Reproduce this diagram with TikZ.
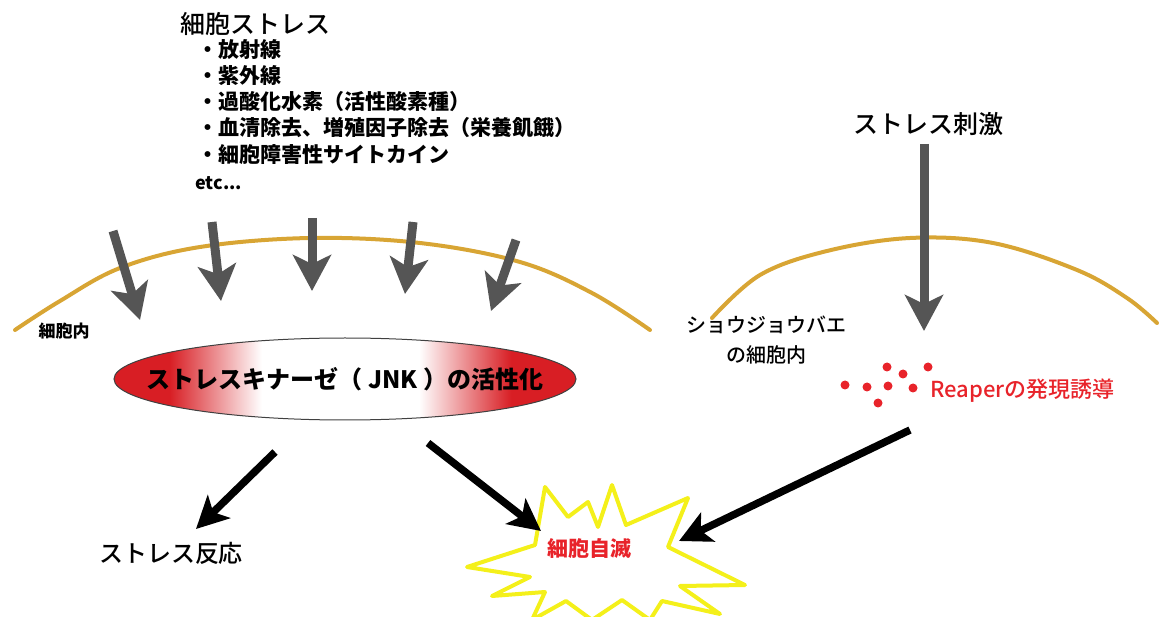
\documentclass[tikz,border=0pt]{standalone}
\usepackage{fontspec}
\setmainfont{Noto Sans CJK JP}
\newfontfamily\medfont{Noto Sans CJK JP Medium}
\usetikzlibrary{arrows.meta,shapes.geometric}
\definecolor{memb}{HTML}{D8A534}
\definecolor{grayarr}{HTML}{555555}
\definecolor{jnkred}{HTML}{D81E24}
\definecolor{txtred}{HTML}{E8232A}
\definecolor{burst}{HTML}{F4F01A}
\pgfdeclarehorizontalshading{jnkshade}{100bp}{color(0bp)=(jnkred); color(25bp)=(jnkred); color(31bp)=(jnkred); color(41bp)=(white); color(58bp)=(white); color(68bp)=(jnkred); color(75bp)=(jnkred); color(100bp)=(jnkred)}
\tikzset{
  membrane/.style={draw=memb, line width=4pt, line cap=round},
  grayarrow/.style={draw=grayarr, line width=9pt, -{Stealth[length=36pt,width=38pt,inset=9pt]}},
  blackarrow/.style={draw=black, line width=7.5pt, -{Stealth[length=32pt,width=32pt,inset=8pt]}},
  lbl/.style={inner sep=0pt, text=black},
  listitem/.style={lbl, anchor=west, font=\fontsize{21}{23}\selectfont\bfseries},
  reddot/.style={fill=txtred, draw=none, circle, minimum size=9pt, inner sep=0pt},
}
\begin{document}
\begin{tikzpicture}[x=1pt,y=-1pt]
\useasboundingbox (0,0) rectangle (1160,617);
% membranes
\draw[membrane] plot[smooth, tension=0.6] coordinates {(15,330) (60,301) (120,268) (200,247) (310,238) (420,243) (520,262) (592,293) (650,330)};
\draw[membrane] plot[smooth, tension=0.6] coordinates {(712,318) (760,275) (827,251) (910,238) (993,243) (1077,270) (1127,298) (1157,323)};
% top text
\node[lbl, anchor=west, font=\fontsize{25}{27}\selectfont\medfont] (title) at (180,24) {細胞ストレス};
\node[listitem] (l1) at (197,50) {・放射線};
\node[listitem] (l2) at (197,76) {・紫外線};
\node[listitem] (l3) at (197,102) {・過酸化水素（活性酸素種）};
\node[listitem] (l4) at (197,128) {・血清除去、増殖因子除去（栄養飢餓）};
\node[listitem] (l5) at (197,155) {・細胞障害性サイトカイン};
\node[lbl, anchor=west, font=\fontsize{18}{20}\selectfont\bfseries] (etc) at (195,183) {etc...};
% gray arrows
\coordinate (g1s) at (113,231); \coordinate (g1e) at (140,320);
\coordinate (g2s) at (212,222); \coordinate (g2e) at (221,301);
\coordinate (g3s) at (312,218); \coordinate (g3e) at (312,291);
\coordinate (g4s) at (413,222); \coordinate (g4e) at (405,294);
\coordinate (g5s) at (516,240); \coordinate (g5e) at (491,311);
\draw[grayarrow] (g1s) -- (g1e);
\draw[grayarrow] (g2s) -- (g2e);
\draw[grayarrow] (g3s) -- (g3e);
\draw[grayarrow] (g4s) -- (g4e);
\draw[grayarrow] (g5s) -- (g5e);
\node[lbl, font=\fontsize{17}{19}\selectfont\bfseries] (inner) at (64,331) {細胞内};
% JNK ellipse
\node[ellipse, minimum width=462pt, minimum height=82pt, shading=jnkshade, draw=black!75, line width=1pt, inner sep=0pt] (jnk) at (345,379) {};
\node[lbl, font=\fontsize{24}{26}\selectfont\bfseries] (jnktext) at (jnk.center) {ストレスキナーゼ（ JNK ）の活性化};
% right side
\node[lbl, font=\fontsize{25}{27}\selectfont\medfont] (stim) at (928,124) {ストレス刺激};
\coordinate (rs) at (924,144); \coordinate (re) at (924,331);
\draw[grayarrow] (rs) -- (re);
\node[lbl, align=center, font=\fontsize{20}{30}\selectfont\medfont] (fly) at (766,340) {ショウジョウバエ\\の細胞内};
\foreach \p/\n in {{(887,367)}/d1,{(903,374)}/d2,{(928,367)}/d3,{(845,385)}/d4,{(867,387)}/d5,{(888,386)}/d6,{(913,388)}/d7,{(878,403)}/d8}
  \node[reddot] (\n) at \p {};
\node[lbl, text=txtred, anchor=west, font=\fontsize{22}{24}\selectfont\medfont] (reaper) at (930,391) {Reaperの発現誘導};
% starburst
\draw[draw=burst, line width=4pt, line join=round, fill=white]
  (467,567) -- (535,545) -- (545,487) -- (568,517) -- (588,502) -- (598,527) -- (612,485) -- (626,525) -- (688,498) -- (668,547) -- (745,585) -- (680,586) -- (720,614) -- (662,601) -- (650,620) -- (622,600) -- (592,620) -- (566,601) -- (532,620) -- (545,592) -- (492,596) -- (530,577) -- cycle;
\node[lbl, text=txtred, font=\fontsize{21}{23}\selectfont\bfseries] (death) at (589,549) {細胞自滅};
\node[lbl, font=\fontsize{24}{26}\selectfont\medfont] (resp) at (171,553) {ストレス反応};
% black arrows
\coordinate (b1s) at (275,452); \coordinate (b1e) at (196,529);
\coordinate (b2s) at (428,443); \coordinate (b2e) at (541,531);
\coordinate (b3s) at (910,430); \coordinate (b3e) at (679,541);
\draw[blackarrow] (b1s) -- (b1e);
\draw[blackarrow] (b2s) -- (b2e);
\draw[blackarrow] (b3s) -- (b3e);
\end{tikzpicture}
\end{document}
